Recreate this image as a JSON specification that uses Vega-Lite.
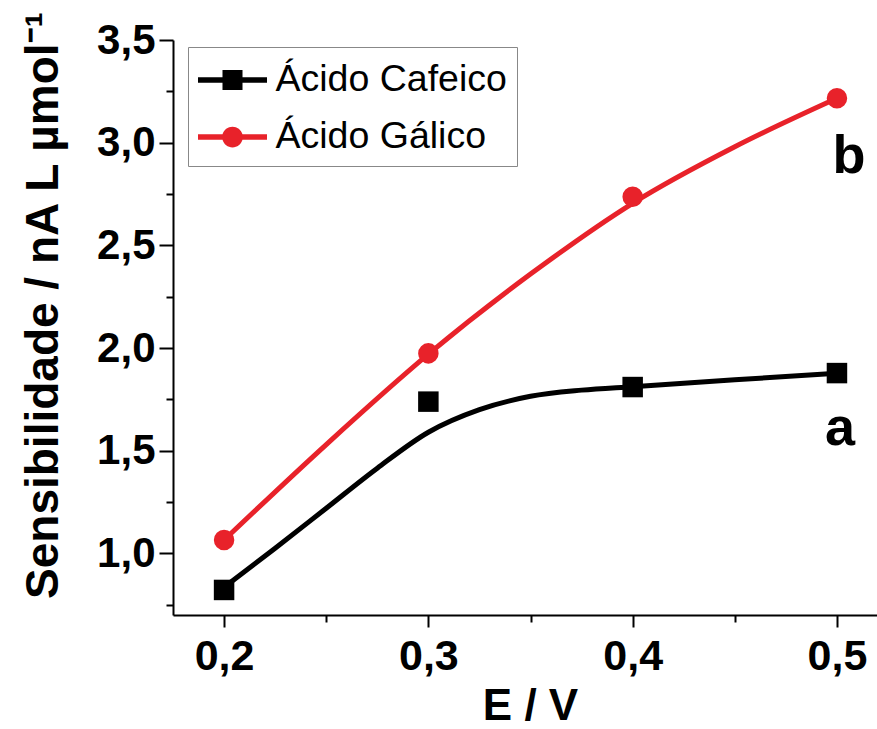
{
  "$schema": "https://vega.github.io/schema/vega-lite/v6.json",
  "autosize": "none",
  "width": 704,
  "height": 575,
  "padding": {"left": 173, "top": 40, "right": 0, "bottom": 114},
  "background": "white",
  "config": {
    "view": {"stroke": null},
    "font": "Liberation Sans",
    "legend": {
      "labelFont": "Liberation Sans",
      "labelFontSize": 37.5,
      "labelFontWeight": "normal",
      "labelColor": "black",
      "labelLimit": 400,
      "labelOffset": 20,
      "symbolOffset": 11.5,
      "symbolStrokeWidth": 0,
      "symbolSize": 2116,
      "strokeColor": "#888888",
      "fillColor": "white",
      "padding": 10,
      "rowPadding": 15
    }
  },
  "datasets": {
    "pontos": [
      {"serie": "Ácido Cafeico", "E": 0.2, "S": 0.822},
      {"serie": "Ácido Cafeico", "E": 0.3, "S": 1.739},
      {"serie": "Ácido Cafeico", "E": 0.4, "S": 1.81},
      {"serie": "Ácido Cafeico", "E": 0.5, "S": 1.878},
      {"serie": "Ácido Gálico", "E": 0.2, "S": 1.065},
      {"serie": "Ácido Gálico", "E": 0.3, "S": 1.974},
      {"serie": "Ácido Gálico", "E": 0.4, "S": 2.737},
      {"serie": "Ácido Gálico", "E": 0.5, "S": 3.216}
    ],
    "ajuste": [
      {"serie": "Ácido Cafeico", "E": 0.2, "S": 0.835},
      {"serie": "Ácido Cafeico", "E": 0.225, "S": 1.025},
      {"serie": "Ácido Cafeico", "E": 0.25, "S": 1.22},
      {"serie": "Ácido Cafeico", "E": 0.275, "S": 1.415},
      {"serie": "Ácido Cafeico", "E": 0.3, "S": 1.59},
      {"serie": "Ácido Cafeico", "E": 0.325, "S": 1.7},
      {"serie": "Ácido Cafeico", "E": 0.35, "S": 1.765},
      {"serie": "Ácido Cafeico", "E": 0.375, "S": 1.795},
      {"serie": "Ácido Cafeico", "E": 0.4, "S": 1.812},
      {"serie": "Ácido Cafeico", "E": 0.45, "S": 1.845},
      {"serie": "Ácido Cafeico", "E": 0.5, "S": 1.877},
      {"serie": "Ácido Gálico", "E": 0.2, "S": 1.065},
      {"serie": "Ácido Gálico", "E": 0.25, "S": 1.53},
      {"serie": "Ácido Gálico", "E": 0.3, "S": 1.97},
      {"serie": "Ácido Gálico", "E": 0.35, "S": 2.36},
      {"serie": "Ácido Gálico", "E": 0.4, "S": 2.705},
      {"serie": "Ácido Gálico", "E": 0.45, "S": 2.98},
      {"serie": "Ácido Gálico", "E": 0.5, "S": 3.216}
    ],
    "rotulos": [
      {"rotulo": "a", "E": 0.5015, "S": 1.528},
      {"rotulo": "b", "E": 0.5059, "S": 2.852}
    ],
    "borda": [{"lado": "topo"}]
  },
  "encoding": {
    "x": {
      "field": "E",
      "type": "quantitative",
      "scale": {"domain": [0.175, 0.5196], "nice": false, "zero": false},
      "axis": {
        "title": "E / V",
        "values": [0.2, 0.25, 0.3, 0.35, 0.4, 0.45, 0.5],
        "labelExpr": "round(datum.value*100) % 10 == 0 ? replace(format(datum.value, '.1f'), '.', ',') : ''",
        "grid": false,
        "domainColor": "black",
        "domainWidth": 2,
        "tickColor": "black",
        "tickWidth": 2,
        "tickSize": {"condition": {"test": "round(datum.value*100) % 10 != 0", "value": 7}, "value": 12},
        "labelFont": "Liberation Sans",
        "labelFontSize": 43,
        "labelFontWeight": "bold",
        "labelColor": "black",
        "labelPadding": 8,
        "labelFlush": false,
        "labelOverlap": false,
        "titleFont": "Liberation Sans",
        "titleFontSize": 44,
        "titleFontWeight": "bold",
        "titleColor": "black",
        "titleX": 357,
        "titleY": 104,
        "titleBaseline": "alphabetic",
        "titleAlign": "center"
      }
    },
    "y": {
      "field": "S",
      "type": "quantitative",
      "scale": {"domain": [0.7, 3.5], "nice": false, "zero": false},
      "axis": {
        "title": "Sensibilidade / nA L µmol⁻¹",
        "values": [0.75, 1, 1.25, 1.5, 1.75, 2, 2.25, 2.5, 2.75, 3, 3.25, 3.5],
        "labelExpr": "round(datum.value*100) % 50 == 0 ? replace(format(datum.value, '.1f'), '.', ',') : ''",
        "grid": false,
        "domainColor": "black",
        "domainWidth": 2,
        "tickColor": "black",
        "tickWidth": 2,
        "tickSize": {"condition": {"test": "round(datum.value*100) % 50 != 0", "value": 7}, "value": 14},
        "labelFont": "Liberation Sans",
        "labelFontSize": 42,
        "labelFontWeight": "bold",
        "labelColor": "black",
        "labelPadding": 4,
        "labelFlush": false,
        "labelOverlap": false,
        "titleFont": "Liberation Sans",
        "titleFontSize": 46,
        "titleFontWeight": "bold",
        "titleColor": "black",
        "titleAngle": -90,
        "titleX": -116,
        "titleY": 265,
        "titleBaseline": "alphabetic",
        "titleAlign": "center"
      }
    }
  },
  "layer": [
    {
      "data": {"name": "borda"},
      "mark": {"type": "rule", "color": "black", "strokeWidth": 2},
      "encoding": {
        "x": {"datum": 0.175, "type": "quantitative"},
        "x2": {"datum": 0.5196},
        "y": {"datum": 3.5, "type": "quantitative"}
      }
    },
    {
      "data": {"name": "ajuste"},
      "mark": {"type": "line", "strokeWidth": 5, "interpolate": "monotone", "strokeCap": "round"},
      "encoding": {
        "color": {
          "field": "serie",
          "type": "nominal",
          "scale": {"domain": ["Ácido Cafeico", "Ácido Gálico"], "range": ["#000000", "#e8222a"]}
        },
        "detail": {"field": "serie"}
      }
    },
    {
      "data": {"name": "pontos"},
      "transform": [{"filter": "datum.serie == 'Ácido Cafeico'"}],
      "mark": {"type": "point", "shape": "square", "filled": true, "size": 420, "opacity": 1},
      "encoding": {
        "color": {"field": "serie", "type": "nominal"}
      }
    },
    {
      "data": {"name": "pontos"},
      "transform": [{"filter": "datum.serie == 'Ácido Gálico'"}],
      "mark": {"type": "point", "shape": "circle", "filled": true, "size": 420, "opacity": 1},
      "encoding": {
        "color": {"field": "serie", "type": "nominal"}
      }
    },
    {
      "data": {"name": "pontos"},
      "mark": {"type": "point", "filled": true, "opacity": 0, "size": 10},
      "encoding": {
        "color": {
          "field": "serie",
          "type": "nominal",
          "legend": {"title": null, "orient": "none", "legendX": 15, "legendY": 7, "symbolOpacity": 1}
        },
        "shape": {
          "field": "serie",
          "type": "nominal",
          "scale": {
            "domain": ["Ácido Cafeico", "Ácido Gálico"],
            "range": [
              "M-1.5,-0.12H-0.435V-0.435H0.435V-0.12H1.5V0.12H0.435V0.435H-0.435V0.12H-1.5Z",
              "M-1.5,-0.12H-0.434A0.45,0.45 0 0 1 0.434,-0.12H1.5V0.12H0.434A0.45,0.45 0 0 1 -0.434,0.12H-1.5Z"
            ]
          },
          "legend": {"title": null, "orient": "none", "legendX": 15, "legendY": 7, "symbolOpacity": 1}
        }
      }
    },
    {
      "data": {"name": "rotulos"},
      "mark": {"type": "text", "font": "Liberation Sans", "fontWeight": "bold", "fontSize": 54, "align": "center", "baseline": "alphabetic", "color": "black"},
      "encoding": {
        "text": {"field": "rotulo"}
      }
    }
  ]
}
